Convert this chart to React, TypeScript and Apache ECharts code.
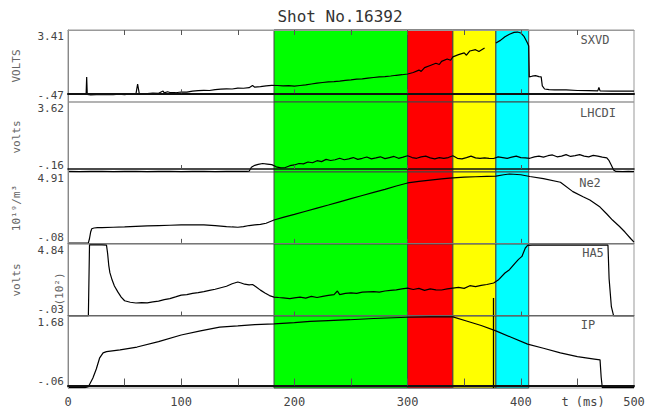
import React, { useEffect, useRef } from "react";
import * as echarts from "echarts";

// ---------- data ----------
const title = "Shot No.16392";
const panelNames = ["SXVD", "LHCDI", "Ne2", "HA5", "IP"];
const yMin = [-0.47, -0.16, -0.08, -0.03, -0.06];
const yMax = [3.41, 3.62, 4.91, 4.84, 1.68];
const yMinLabels = ["-.47", "-.16", "-.08", "-.03", "-.06"];
const yMaxLabels = ["3.41", "3.62", "4.91", "4.84", "1.68"];
const yUnits = ["VOLTS", "volts", "10¹⁹/m³", "volts", ""];
const xTickLabels = [0, 100, 200, 300, 400, 500];
const xUnitAt = 455;
const xUnit = "t (ms)";
const bandStart = [182, 300, 340, 378];
const bandEnd = [300, 340, 378, 407];
const marker = 376;
const markerHadTop = 1.19;

const sxvd: any[] = [
  [0, -0.04], [5, -0.05], [10, -0.04], [15, -0.05], [16, -0.05], [16.5, 0.88], [17, -0.06], [20, -0.09],
  [25, -0.07], [30, -0.08], [35, -0.06], [40, -0.08], [45, -0.05], [50, -0.07], [55, -0.04], [60, -0.05],
  [61.5, 0.5], [63, -0.03], [70, -0.02], [75, 0.01], [80, 0.0], [84, 0.12], [85, 0.02], [88, 0.08],
  [90, 0.04], [95, 0.03], [100, 0.07], [105, 0.06], [110, 0.12], [115, 0.14], [120, 0.16], [125, 0.15],
  [130, 0.2], [135, 0.22], [140, 0.24], [145, 0.23], [150, 0.28], [155, 0.27], [160, 0.3], [163, 0.42],
  [165, 0.33], [170, 0.36], [175, 0.4], [180, 0.43], [185, 0.42], [190, 0.4], [195, 0.41], [200, 0.39],
  [205, 0.42], [210, 0.45], [215, 0.5], [220, 0.55], [225, 0.58], [230, 0.61], [235, 0.63], [240, 0.66],
  [245, 0.7], [250, 0.72], [255, 0.76], [260, 0.78], [265, 0.82], [270, 0.85], [275, 0.88], [280, 0.9],
  [285, 0.93], [290, 0.97], [295, 1.0], [300, 1.04], [305, 1.12], [310, 1.25], [312, 1.18], [315, 1.38],
  [320, 1.5], [325, 1.62], [328, 1.55], [330, 1.72], [335, 1.85], [338, 1.78], [340, 1.96], [345, 2.08],
  [350, 2.18], [352, 2.05], [355, 2.28], [360, 2.35], [363, 2.25], [368, 2.44], [372, "-"],
  [378, 2.71], [382, 2.85], [386, 3.05], [390, 3.18], [394, 3.28], [397, 3.3], [400, 3.25], [403, 3.05],
  [406, 2.7], [407, 2.55], [407.5, 0.88], [410, 0.92], [413, 0.95], [416, 0.9], [418, 0.88], [419, 0.4],
  [421, 0.23], [425, 0.2], [430, 0.18], [440, 0.18], [450, 0.15], [460, 0.14], [468, 0.13], [469, 0.32],
  [470, 0.13], [480, 0.12], [490, 0.12], [500, 0.12],
];

const lhcdi: any[] = [
  [0, -0.13], [10, -0.14], [20, -0.13], [30, -0.12], [40, -0.14], [50, -0.13], [60, -0.12], [70, -0.14],
  [80, -0.13], [90, -0.12], [100, -0.14], [110, -0.13], [120, -0.12], [130, -0.14], [140, -0.13],
  [150, -0.12], [158, -0.13], [160, -0.12], [162, 0.1], [165, 0.2], [168, 0.25], [172, 0.3], [176, 0.27],
  [180, 0.24], [184, 0.12], [188, 0.06], [192, 0.08], [196, 0.18], [200, 0.22], [204, 0.3], [208, 0.28],
  [212, 0.38], [216, 0.34], [220, 0.45], [224, 0.4], [228, 0.52], [232, 0.46], [236, 0.5], [240, 0.58],
  [244, 0.5], [248, 0.55], [252, 0.62], [256, 0.52], [260, 0.58], [264, 0.65], [268, 0.55], [272, 0.6],
  [276, 0.66], [280, 0.56], [284, 0.62], [288, 0.68], [292, 0.58], [296, 0.64], [300, 0.72], [304, 0.62],
  [308, 0.58], [312, 0.66], [316, 0.7], [320, 0.6], [324, 0.55], [328, 0.62], [332, 0.58], [336, 0.62],
  [340, 0.72], [344, 0.58], [348, 0.55], [352, 0.62], [356, 0.7], [360, 0.6], [364, 0.58], [368, 0.6],
  [372, 0.58], [376, 0.57], [380, 0.66], [384, 0.62], [388, 0.58], [392, 0.64], [396, 0.7], [400, 0.62],
  [404, 0.6], [408, 0.58], [412, 0.66], [416, 0.7], [420, 0.64], [424, 0.72], [428, 0.76], [432, 0.66],
  [436, 0.7], [440, 0.78], [444, 0.68], [448, 0.72], [452, 0.78], [456, 0.7], [460, 0.66], [464, 0.74],
  [468, 0.7], [472, 0.64], [476, 0.6], [478, 0.45], [480, 0.2], [482, -0.05], [484, -0.13], [490, -0.14],
  [495, -0.13], [500, -0.14],
];

const ne2: any[] = [
  [0, -0.02], [5, -0.01], [10, -0.02], [15, -0.01], [18, 0.0], [19, 0.3], [20, 0.75], [21, 0.98],
  [23, 1.03], [26, 1.05], [30, 1.06], [40, 1.08], [50, 1.1], [60, 1.14], [70, 1.17], [80, 1.2], [90, 1.22],
  [100, 1.24], [110, 1.25], [120, 1.24], [130, 1.2], [140, 1.13], [145, 1.1], [150, 1.08], [155, 1.12],
  [160, 1.2], [165, 1.24], [170, 1.28], [175, 1.36], [182, 1.58], [190, 1.76], [200, 1.97], [210, 2.19],
  [220, 2.41], [230, 2.62], [240, 2.84], [250, 3.06], [260, 3.28], [270, 3.5], [280, 3.71], [290, 3.94],
  [300, 4.15], [310, 4.26], [320, 4.35], [330, 4.44], [337, 4.49], [350, 4.55], [360, 4.58], [370, 4.61],
  [378, 4.63], [385, 4.72], [390, 4.77], [400, 4.72], [408, 4.6], [420, 4.45], [435, 4.2], [446, 3.55],
  [455, 3.2], [461, 2.97], [470, 2.48], [476, 2.0], [481, 1.58], [487, 1.15], [492, 0.75], [497, 0.3],
  [500, 0.05],
];

const had: any[] = [
  [0, -0.02], [10, -0.02], [18, -0.02], [19, 4.78], [25, 4.78], [30, 4.78], [34, 4.76], [35, 4.2],
  [36, 3.4], [37, 2.9], [39, 2.4], [41, 2.0], [44, 1.6], [47, 1.25], [50, 1.0], [55, 0.9], [60, 0.85],
  [65, 0.88], [70, 0.86], [75, 0.92], [80, 0.98], [85, 1.08], [90, 1.15], [95, 1.26], [100, 1.38],
  [105, 1.42], [110, 1.5], [115, 1.55], [120, 1.62], [125, 1.7], [130, 1.78], [135, 1.88], [140, 1.98],
  [145, 2.15], [150, 2.27], [153, 2.2], [156, 2.12], [160, 2.08], [163, 2.1], [166, 1.95], [170, 1.72],
  [174, 1.53], [178, 1.35], [182, 1.25], [186, 1.22], [190, 1.2], [196, 1.15], [200, 1.2], [205, 1.25],
  [210, 1.18], [215, 1.3], [220, 1.22], [225, 1.3], [230, 1.36], [235, 1.42], [238, 1.66], [240, 1.42],
  [245, 1.5], [250, 1.53], [255, 1.5], [260, 1.58], [265, 1.6], [270, 1.62], [275, 1.58], [280, 1.66],
  [285, 1.7], [290, 1.74], [295, 1.8], [300, 1.86], [305, 1.76], [310, 1.84], [315, 1.7], [320, 1.8],
  [325, 1.74], [330, 1.73], [335, 1.8], [340, 1.86], [345, 1.9], [350, 1.84], [355, 2.02], [360, 1.96],
  [365, 2.04], [370, 2.1], [376, 2.2], [380, 2.4], [386, 2.88], [390, 3.1], [395, 3.55], [398, 3.8],
  [401, 4.0], [404, 4.57], [406, 4.75], [410, 4.76], [430, 4.76], [450, 4.76], [470, 4.76], [477, 4.76],
  [478, 2.5], [480, 0.6], [482, -0.02], [500, -0.02],
];

const ip: any[] = [
  [0, -0.05], [10, -0.05], [15, -0.05], [18, -0.03], [22, 0.18], [25, 0.4], [28, 0.67], [31, 0.79],
  [34, 0.82], [46, 0.86], [61, 0.93], [80, 1.06], [100, 1.22], [117, 1.32], [134, 1.41], [150, 1.44],
  [165, 1.47], [182, 1.49], [200, 1.52], [214, 1.55], [230, 1.57], [249, 1.59], [270, 1.62], [300, 1.65],
  [320, 1.66], [340, 1.66], [352, 1.56], [365, 1.45], [378, 1.32], [392, 1.16], [406, 1.0], [420, 0.9],
  [435, 0.79], [450, 0.7], [465, 0.64], [470, 0.62], [471, 0.2], [472, -0.05], [500, -0.05],
];

const seriesData = [sxvd, lhcdi, ne2, had, ip];

// ---------- styles / layout ----------
const FONT = "DejaVu Sans Mono";
const gridTops = [30, 102, 172, 244, 316];
const gridHeights = [72, 70, 72, 72, 72];
const gridLeft = 68;
const gridWidth = 566;
const bandColors = ["#00ff00", "#ff0000", "#ffff00", "#00ffff"];
const bottomLineColors = ["#111", "#111", "#777", "#666", "#111"];
const bottomLineWidths = [2, 1.5, 1, 1, 2];
const labelInsetPx = 6.5;
const panelLabelPos = [
  [595, 40], [598, 113], [590, 183], [593, 253], [588, 325],
];

export default function App() {
  const ref = useRef<HTMLDivElement>(null);
  useEffect(() => {
    document.body.style.margin = "0";
    if (!ref.current) return;
    const chart = echarts.init(ref.current, null, { renderer: "svg" });

    const grid = gridTops.map((t, i) => ({
      left: gridLeft,
      top: t,
      width: gridWidth,
      height: gridHeights[i],
      show: true,
      borderColor: "#999",
      borderWidth: 1,
      backgroundColor: "transparent",
    }));

    const xAxis: any[] = gridTops.map((_, i) => ({
      gridIndex: i,
      type: "value",
      min: 0,
      max: 500,
      z: 10,
      axisLine: { show: true, lineStyle: { color: bottomLineColors[i], width: bottomLineWidths[i] } },
      axisTick: {
        show: true,
        inside: true,
        length: i === 4 ? 7 : 4,
        customValues: i === 4 ? [50, 100, 150, 200, 250, 300, 350, 400, 450] : [100, 200, 300, 400],
        lineStyle: { color: "#555" },
      },
      axisLabel: {
        show: i === 4,
        customValues: [...xTickLabels, xUnitAt],
        formatter: (v: number) => (v === xUnitAt ? xUnit : String(v)),
        fontFamily: FONT,
        fontSize: 12,
        color: "#444",
        margin: 8,
      },
      splitLine: { show: false },
    }));
    xAxis.push({
      gridIndex: 0,
      type: "value",
      position: "top",
      min: 0,
      max: 500,
      z: 10,
      axisLine: { show: true, lineStyle: { color: "#999", width: 1 } },
      axisTick: {
        show: true,
        inside: true,
        length: 5,
        customValues: [50, 100, 150, 200, 250, 300, 350, 400, 450],
        lineStyle: { color: "#555" },
      },
      axisLabel: { show: false },
      splitLine: { show: false },
    });

    const yAxis = gridTops.map((_, i) => {
      const range = yMax[i] - yMin[i];
      const d = (labelInsetPx / gridHeights[i]) * range;
      const mid = (yMax[i] + yMin[i]) / 2;
      return {
        gridIndex: i,
        type: "value",
        min: yMin[i],
        max: yMax[i],
        z: 10,
        axisLine: { show: true, lineStyle: { color: "#888", width: 1 } },
        axisTick: { show: false },
        splitLine: { show: false },
        axisLabel: {
          customValues: [yMin[i] + d, yMax[i] - d],
          formatter: (v: number) => (v < mid ? yMinLabels[i] : yMaxLabels[i]),
          fontFamily: FONT,
          fontSize: 11,
          color: "#444",
          margin: 4,
        },
        name: yUnits[i],
        nameLocation: "middle",
        nameGap: 46,
        nameTextStyle: { fontFamily: FONT, fontSize: 11, color: "#666" },
      };
    });

    const series: any[] = [];
    gridTops.forEach((_, i) => {
      series.push({
        type: "line",
        xAxisIndex: i,
        yAxisIndex: i,
        data: [],
        z: 1,
        silent: true,
        markArea: {
          silent: true,
          data: bandStart.map((s, k) => [
            { xAxis: s, itemStyle: { color: bandColors[k], borderColor: "#444", borderWidth: 1, opacity: 1 } },
            { xAxis: bandEnd[k] },
          ]),
        },
      });
      const line: any = {
        type: "line",
        name: panelNames[i],
        xAxisIndex: i,
        yAxisIndex: i,
        data: seriesData[i],
        showSymbol: false,
        symbol: "none",
        z: 3,
        lineStyle: { color: "#000", width: 1.2 },
        connectNulls: false,
      };
      if (i === 3) {
        line.markLine = {
          silent: true,
          symbol: "none",
          label: { show: false },
          lineStyle: { color: "#000", width: 1.3, type: "solid" },
          data: [[{ coord: [marker, yMin[3]] }, { coord: [marker, markerHadTop] }]],
        };
      }
      if (i === 4) {
        line.markLine = {
          silent: true,
          symbol: "none",
          label: { show: false },
          lineStyle: { color: "#000", width: 1.3, type: "solid" },
          data: [{ xAxis: marker }],
        };
      }
      series.push(line);
    });

    const graphic: any[] = panelNames.map((n, i) => ({
      type: "text",
      x: panelLabelPos[i][0],
      y: panelLabelPos[i][1],
      z: 20,
      style: {
        text: n,
        fontFamily: FONT,
        fontSize: 12,
        fill: "#555",
        align: "center",
        verticalAlign: "middle",
      },
    }));
    graphic.push({
      type: "text",
      x: 59,
      y: 289,
      rotation: Math.PI / 2,
      z: 20,
      style: {
        text: "(10²)",
        fontFamily: FONT,
        fontSize: 11,
        fill: "#666",
        align: "center",
        verticalAlign: "middle",
      },
    });

    chart.setOption({
      animation: false,
      backgroundColor: "#fff",
      title: {
        text: title,
        left: 335,
        top: 3,
        textAlign: "center",
        textStyle: { fontFamily: FONT, fontSize: 16, fontWeight: "normal", color: "#333" },
      },
      grid,
      xAxis,
      yAxis,
      series,
      graphic,
    });
    return () => chart.dispose();
  }, []);
  return <div ref={ref} style={{ width: 650, height: 418 }} />;
}
